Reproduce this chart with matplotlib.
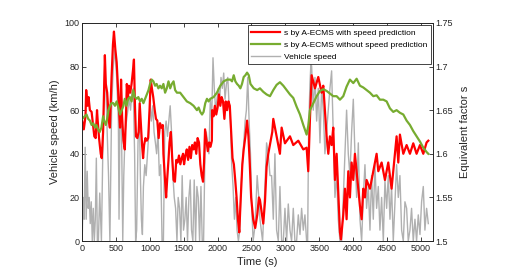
import matplotlib
matplotlib.use("Agg")
import matplotlib.pyplot as plt

plt.rcParams['font.family'] = ['Liberation Sans', 'DejaVu Sans']

# Vehicle speed (km/h), left axis
speed_t = [0, 15, 30, 45, 60, 75, 90, 105, 120, 135, 150, 165, 180, 195, 210, 225, 240, 260, 285,
           310, 335, 350, 370, 390, 410, 435, 460, 485, 510, 535, 545, 560, 575, 600, 615, 635, 655,
           675, 695, 715, 735, 755, 775, 790, 805, 825, 845, 860, 875, 890, 905, 925, 945, 965, 985,
           1003, 1022, 1042, 1062, 1082, 1100, 1120, 1140, 1160, 1180, 1200, 1220, 1240, 1260, 1280,
           1300, 1320, 1340, 1360, 1380, 1400, 1418, 1438, 1458, 1477, 1497, 1517, 1536, 1556, 1576,
           1596, 1615, 1635, 1655, 1675, 1694, 1714, 1734, 1754, 1773, 1793, 1813, 1833, 1852, 1872,
           1892, 1912, 1932, 1951, 1971, 1991, 2010, 2030, 2050, 2070, 2090, 2110, 2130, 2150, 2170,
           2190, 2208, 2228, 2248, 2267, 2287, 2307, 2327, 2346, 2366, 2386, 2406, 2425, 2445, 2465,
           2485, 2505, 2524, 2544, 2564, 2584, 2608, 2625, 2664, 2699, 2723, 2748, 2773, 2797, 2822,
           2846, 2871, 2896, 2920, 2945, 2970, 2994, 3019, 3043, 3068, 3092, 3117, 3141, 3166, 3191,
           3216, 3240, 3265, 3289, 3314, 3329, 3343, 3363, 3378, 3388, 3412, 3437, 3462, 3486, 3511,
           3535, 3560, 3584, 3609, 3634, 3658, 3683, 3707, 3732, 3757, 3781, 3806, 3831, 3855, 3880,
           3904, 3929, 3953, 3978, 4003, 4027, 4052, 4077, 4101, 4126, 4150, 4175, 4199, 4224, 4249,
           4273, 4298, 4322, 4347, 4372, 4396, 4421, 4446, 4470, 4495, 4519, 4544, 4568, 4593, 4618,
           4642, 4667, 4691, 4716, 4741, 4765, 4790, 4814, 4839, 4863, 4888, 4913, 4937, 4962, 4987,
           5011, 5036, 5060, 5085, 5110]
speed_v = [0, 20, 10, 43, 10, 32, 15, 20, 8, 18, 0, 15, 0, 10, 38, 0, 0, 22, 0,
           50, 80, 70, 50, 30, 0, 60, 80, 88, 75, 55, 10, 60, 70, 0, 30, 50, 55,
           60, 65, 60, 68, 70, 40, 0, 5, 45, 60, 30, 10, 3, 25, 35, 30, 40, 50,
           63, 55, 62, 50, 45, 40, 50, 30, 35, 0, 0, 50, 55, 48, 55,
           62, 50, 30, 20, 15, 0, 20, 15, 0, 30, 5, 10, 20, 0, 20,
           28, 5, 0, 28, 0, 25, 20, 0, 25, 0, 0, 40, 50, 45, 40,
           65, 55, 84, 70, 60, 65, 70, 65, 75, 70, 77, 65, 72, 75, 62,
           55, 35, 25, 10, 20, 5, 0, 5, 25, 35, 45, 55, 60, 75, 55,
           40, 15, 0, 5, 15, 30, 20, 10, 0, 25, 45, 40, 30, 30, 10,
           40, 5, 0, 25, 0, 0, 15, 0, 17, 5, 0, 15, 0, 0, 12,
           3, 15, 5, 12, 0, 0, 50, 72, 82, 80, 60, 75, 55, 70, 45,
           70, 60, 40, 50, 60, 70, 78, 50, 20, 30, 10, 0, 0, 20, 40,
           60, 40, 30, 50, 65, 40, 20, 45, 10, 0, 20, 35, 15, 25, 5,
           30, 10, 35, 15, 25, 5, 20, 0, 28, 15, 30, 10, 25, 0, 18,
           35, 20, 30, 5, 0, 18, 15, 0, 5, 15, 0, 10, 0, 12, 3,
           18, 25, 5, 15, 8]

# Equivalent factor s with speed prediction (right axis)
pred_t = [0, 25, 50, 60, 80, 95, 115, 140, 165, 180, 200, 220, 230, 250, 275, 290, 310, 336, 350,
          370, 395, 410, 435, 455, 470, 490, 510, 530, 545, 560, 575, 590, 610, 630, 650, 660, 675,
          690, 710, 730, 750, 765, 780, 795, 815, 835, 850, 865, 885, 900, 915, 935, 955, 975, 995,
          1013, 1030, 1050, 1072, 1090, 1110, 1130, 1150, 1170, 1190, 1200, 1220, 1240, 1255, 1275,
          1290, 1310, 1330, 1350, 1370, 1390, 1410, 1430, 1450, 1470, 1490, 1505, 1525, 1545, 1565,
          1585, 1605, 1625, 1645, 1665, 1685, 1705, 1725, 1745, 1765, 1785, 1800, 1815, 1835, 1855,
          1875, 1895, 1915, 1920, 1940, 1960, 1980, 2000, 2020, 2040, 2060, 2080, 2100, 2120, 2140,
          2160, 2180, 2200, 2220, 2240, 2260, 2280, 2300, 2320, 2335, 2365, 2385, 2410, 2435, 2455,
          2475, 2495, 2525, 2555, 2585, 2610, 2625, 2674, 2699, 2723, 2748, 2807, 2822, 2871, 2920,
          2945, 2994, 3068, 3117, 3191, 3265, 3314, 3338, 3363, 3388, 3437, 3486, 3535, 3560, 3609,
          3634, 3658, 3683, 3707, 3732, 3757, 3806, 3821, 3855, 3880, 3904, 3929, 3953, 3978, 4003,
          4027, 4052, 4077, 4101, 4126, 4150, 4175, 4199, 4249, 4298, 4347, 4372, 4421, 4470, 4519,
          4568, 4593, 4642, 4667, 4691, 4741, 4790, 4839, 4888, 4937, 4987, 5036, 5085, 5110]
pred_s = [1.638, 1.628, 1.643, 1.673, 1.655, 1.665, 1.650, 1.648, 1.630, 1.620, 1.618, 1.650, 1.638,
          1.618, 1.600, 1.595, 1.625, 1.713, 1.680, 1.670, 1.638, 1.630, 1.688, 1.725, 1.740, 1.720,
          1.705, 1.675, 1.650, 1.630, 1.685, 1.643, 1.615, 1.605, 1.650, 1.680, 1.663, 1.678, 1.670,
          1.680, 1.695, 1.708, 1.655, 1.620, 1.618, 1.625, 1.658, 1.638, 1.610, 1.595, 1.610, 1.618,
          1.615, 1.618, 1.650, 1.685, 1.675, 1.665, 1.650, 1.640, 1.638, 1.618, 1.635, 1.630, 1.633,
          1.600, 1.575, 1.550, 1.570, 1.593, 1.613, 1.625, 1.595, 1.570, 1.568, 1.593, 1.590, 1.598,
          1.588, 1.595, 1.600, 1.588, 1.598, 1.605, 1.593, 1.608, 1.595, 1.610, 1.605, 1.613, 1.600,
          1.618, 1.613, 1.588, 1.575, 1.568, 1.590, 1.628, 1.615, 1.603, 1.613, 1.608, 1.615, 1.650,
          1.643, 1.655, 1.645, 1.653, 1.668, 1.655, 1.665, 1.660, 1.640, 1.660, 1.650, 1.660, 1.655,
          1.625, 1.595, 1.588, 1.570, 1.550, 1.525, 1.510, 1.538, 1.588, 1.605, 1.620, 1.638, 1.620,
          1.588, 1.550, 1.525, 1.515, 1.530, 1.550, 1.547, 1.520, 1.545, 1.585, 1.600, 1.625, 1.640,
          1.620, 1.600, 1.630, 1.612, 1.620, 1.610, 1.615, 1.605, 1.607, 1.580, 1.640, 1.690, 1.675,
          1.688, 1.670, 1.678, 1.620, 1.600, 1.620, 1.610, 1.630, 1.570, 1.600, 1.510, 1.502, 1.530,
          1.560, 1.525, 1.580, 1.550, 1.590, 1.570, 1.600, 1.580, 1.560, 1.540, 1.525, 1.560, 1.550,
          1.570, 1.560, 1.580, 1.600, 1.580, 1.590, 1.570, 1.590, 1.560, 1.580, 1.620, 1.590, 1.622,
          1.600, 1.610, 1.600, 1.612, 1.600, 1.610, 1.600, 1.613, 1.615]

# Equivalent factor s without speed prediction (right axis)
nopred_t = [0, 40, 65, 90, 115, 140, 165, 190, 210, 235, 260, 285, 310, 325, 350, 370, 390, 410, 435,
            460, 485, 510, 535, 560, 585, 610, 630, 655, 680, 705, 730, 755, 780, 805, 830, 855, 880,
            905, 930, 955, 980, 1003, 1027, 1052, 1077, 1100, 1126, 1150, 1175, 1200, 1225, 1250,
            1275, 1300, 1324, 1350, 1373, 1400, 1447, 1497, 1546, 1596, 1645, 1695, 1720, 1744, 1770,
            1793, 1818, 1843, 1867, 1892, 1941, 1990, 2040, 2090, 2140, 2188, 2213, 2238, 2262, 2287,
            2312, 2336, 2360, 2385, 2410, 2435, 2460, 2485, 2534, 2584, 2625, 2674, 2723, 2773, 2822,
            2871, 2920, 2970, 3019, 3068, 3117, 3166, 3216, 3265, 3314, 3338, 3363, 3412, 3462, 3511,
            3560, 3609, 3658, 3707, 3757, 3806, 3855, 3904, 3953, 4003, 4052, 4101, 4150, 4199, 4249,
            4298, 4347, 4396, 4446, 4495, 4544, 4593, 4642, 4691, 4741, 4790, 4839, 4888, 4937, 4987,
            5036, 5085, 5110]
nopred_s = [1.640, 1.643, 1.645, 1.640, 1.638, 1.633, 1.635, 1.630, 1.633, 1.628, 1.625, 1.630, 1.643,
            1.638, 1.633, 1.640, 1.650, 1.655, 1.658, 1.658, 1.655, 1.660, 1.653, 1.645, 1.650, 1.655,
            1.663, 1.655, 1.663, 1.665, 1.660, 1.673, 1.665, 1.663, 1.665, 1.660, 1.663, 1.658, 1.663,
            1.668, 1.673, 1.680, 1.685, 1.683, 1.678, 1.680, 1.675, 1.678, 1.675, 1.680, 1.670, 1.675,
            1.683, 1.675, 1.680, 1.683, 1.673, 1.670, 1.670, 1.665, 1.660, 1.658, 1.655, 1.650, 1.653,
            1.648, 1.645, 1.648, 1.658, 1.663, 1.660, 1.663, 1.665, 1.670, 1.678, 1.683, 1.685, 1.685,
            1.683, 1.690, 1.683, 1.680, 1.678, 1.675, 1.680, 1.688, 1.690, 1.693, 1.690, 1.680, 1.675,
            1.673, 1.675, 1.671, 1.668, 1.666, 1.673, 1.679, 1.682, 1.678, 1.673, 1.668, 1.664, 1.654,
            1.645, 1.633, 1.622, 1.632, 1.650, 1.658, 1.666, 1.672, 1.674, 1.672, 1.669, 1.666, 1.666,
            1.662, 1.666, 1.677, 1.685, 1.681, 1.686, 1.678, 1.676, 1.673, 1.670, 1.666, 1.667, 1.662,
            1.662, 1.660, 1.652, 1.648, 1.650, 1.647, 1.645, 1.638, 1.633, 1.626, 1.620, 1.614, 1.607,
            1.602, 1.600]

left_ticks = [0, 20, 40, 60, 80, 100]
right_ticks = [1.5, 1.55, 1.6, 1.65, 1.7, 1.75]
right_ticklabels = ['1.5', '1.55', '1.6', '1.65', '1.7', '1.75']
x_ticks = [0, 500, 1000, 1500, 2000, 2500, 3000, 3500, 4000, 4500, 5000]

fig = plt.figure(figsize=(5.23, 2.79), dpi=100)
ax = fig.add_axes([0.157, 0.136, 0.671, 0.782])
ax2 = ax.twinx()

l3, = ax.plot(speed_t, speed_v, color='#b0b0b0', lw=1.0, label='Vehicle speed')
l1, = ax2.plot(pred_t, pred_s, color='#ff0000', lw=1.6, label='s by A-ECMS with speed prediction')
l2, = ax2.plot(nopred_t, nopred_s, color='#77ac30', lw=1.6, label='s by A-ECMS without speed prediction')

ax.set_xlim(0, 5180)
ax.set_ylim(0, 100)
ax2.set_ylim(1.5, 1.75)
ax.set_xticks(x_ticks)
ax.set_yticks(left_ticks)
ax2.set_yticks(right_ticks)
ax2.set_yticklabels(right_ticklabels)

for a in (ax, ax2):
    a.tick_params(direction='in', length=3, width=0.6, labelsize=6.5, colors='#262626', pad=2)
    for sp in a.spines.values():
        sp.set_linewidth(0.6)
        sp.set_color('#262626')
ax.tick_params(top=True)

ax.set_xlabel('Time (s)', fontsize=8, color='#262626', labelpad=3)
ax.set_ylabel('Vehicle speed (km/h)', fontsize=8, color='#262626', labelpad=3)
ax2.set_ylabel('Equivalent factor s', fontsize=8, color='#262626', labelpad=5)

leg = ax2.legend(handles=[l1, l2, l3], loc='upper right', fontsize=6, frameon=True,
                 fancybox=False, edgecolor='#262626', framealpha=1, borderaxespad=0.25,
                 handlelength=3.4, labelspacing=0.5, borderpad=0.45, handletextpad=0.5)
leg.get_frame().set_linewidth(0.6)

fig.savefig('out.png', dpi=100)
